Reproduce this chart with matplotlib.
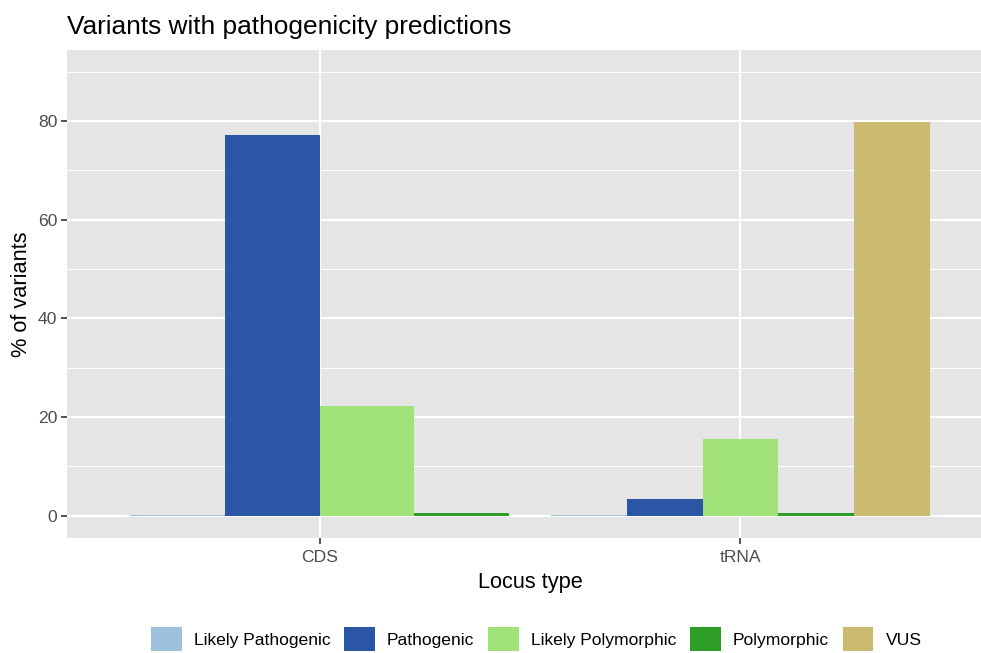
import numpy as np
import matplotlib
matplotlib.use('Agg')
import matplotlib.pyplot as plt
from matplotlib.patches import Patch

plt.rcParams['font.family'] = ['Liberation Sans', 'DejaVu Sans']

loci = ["CDS", "tRNA"]
classes = ["Likely Pathogenic", "Pathogenic", "Likely Polymorphic", "Polymorphic", "VUS"]
colors = ["#9dc0dd", "#2b56a5", "#a1e278", "#2e9e27", "#cbbb71"]

# % of variants per locus type (None = class absent)
cds_vals = [0.2, 77.1, 22.2, 0.5, None]
trna_vals = [0.15, 3.5, 15.5, 0.6, 79.9]
values = [cds_vals, trna_vals]

fig = plt.figure(figsize=(9.81, 6.53), dpi=100)
# panel runs a little past the right edge, like the cropped original
ax = fig.add_axes([67/981, 1-538/653, 926/981, 488/653])
ax.set_facecolor("#e5e5e5")

for i, vals in enumerate(values):
    present = [(k, v) for k, v in enumerate(vals) if v is not None]
    w = 0.9 / len(present)
    start = (i + 1) - 0.45 + w / 2
    for j, (k, v) in enumerate(present):
        ax.bar(start + j * w, v, width=w, color=colors[k], edgecolor='none', zorder=3)

ax.set_xlim(0.4, 2.6)
ax.set_ylim(-4.5, 94.4)
ax.set_xticks([1, 2])
ax.set_xticklabels(loci)
ax.set_yticks([0, 20, 40, 60, 80])
ax.set_yticks([10, 30, 50, 70, 90], minor=True)
ax.grid(True, which='major', color='white', linewidth=1.5, zorder=1)
ax.grid(True, which='minor', axis='y', color='white', linewidth=0.75, zorder=1)
for s in ax.spines.values():
    s.set_visible(False)
ax.tick_params(which='major', length=4, width=1.2, color='#333333', labelsize=12.6,
               labelcolor='#4d4d4d', pad=3)
ax.tick_params(axis='x', which='major', pad=5)
ax.tick_params(which='minor', length=0)
ax.set_xlabel("Locus type", fontsize=15.7, labelpad=5)
ax.set_ylabel("% of variants", fontsize=15.7, labelpad=4)
fig.text(67/981, 1-34/653, "Variants with pathogenicity predictions", fontsize=18.9,
         va='baseline', ha='left')

handles = [Patch(facecolor=c, edgecolor='none') for c in colors]
fig.legend(handles, classes, ncol=5, loc='upper left',
           bbox_to_anchor=(151/981, 1-627/653), frameon=False, fontsize=12.6,
           borderpad=0, borderaxespad=0, handlelength=1.75, handleheight=1.75,
           handletextpad=0.7, columnspacing=0.78)

fig.savefig("out.png", dpi=100)
